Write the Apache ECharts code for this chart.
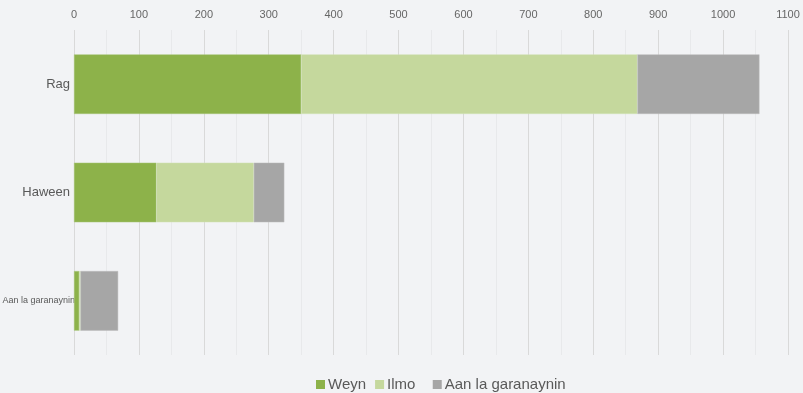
<!DOCTYPE html>
<html>
<head>
<meta charset="utf-8" />
<title>Rag / Haween</title>
<script src="https://cdn.jsdelivr.net/npm/echarts@6/dist/echarts.min.js"></script>
<style>
  html, body { margin: 0; padding: 0; background: #f2f3f5; }
</style>
</head>
<body>
<div id="main" style="width: 803px;height:393px;"></div>
<script type="text/javascript">
var categories = ['Rag', 'Haween', 'Aan la garanaynin'];
var weyn = [350, 127, 8];
var ilmo = [518, 150, 2];
var aan = [188, 47, 58];
var xTicks = { min: 0, max: 1100, interval: 100 };

var myChart = echarts.init(document.getElementById('main'));

// the long category is drawn small, like in the original
var yData = categories.map(function (c) {
  if (c.length > 10) {
    return { value: c, textStyle: { fontSize: 9, padding: [0, -5, 0, 0] } };
  }
  return c;
});

var option = {
  backgroundColor: '#f2f3f5',
  color: ['#8db24a', '#c5d89d', '#a6a6a6'],
  textStyle: { fontFamily: 'Arial, Liberation Sans, sans-serif' },
  grid: { left: 74, right: 15, top: 30, bottom: 38, containLabel: false, outerBoundsMode: 'none' },
  legend: {
    top: 372,
    left: 311,
    itemWidth: 9,
    itemHeight: 9,
    itemGap: 9,
    icon: 'rect',
    itemStyle: { borderWidth: 0 },
    textStyle: { fontSize: 15, color: '#595959', padding: [0, 0, 0, -2] },
    // the original has a wider gap after Ilmo
    formatter: function (name) { return name === 'Ilmo' ? name + '  ' : name; },
    data: ['Weyn', 'Ilmo', 'Aan la garanaynin']
  },
  xAxis: {
    type: 'value',
    position: 'top',
    min: xTicks.min,
    max: xTicks.max,
    interval: xTicks.interval,
    axisLine: { show: false },
    axisTick: { show: false },
    axisLabel: { color: '#666', fontSize: 11, margin: 10, formatter: function (v) { return String(v); } },
    splitLine: { lineStyle: { color: '#d9d9d9' } },
    minorTick: { show: false, splitNumber: 2 },
    minorSplitLine: { show: true, lineStyle: { color: '#e8e9eb' } }
  },
  yAxis: {
    type: 'category',
    inverse: true,
    data: yData,
    axisLine: { show: false },
    axisTick: { show: false },
    axisLabel: { color: '#595959', fontSize: 13, margin: 4 }
  },
  series: [
    { name: 'Weyn', type: 'bar', stack: 'all', barWidth: '55%', data: weyn,
      itemStyle: { borderColor: '#a9c67a', borderWidth: 0.5 } },
    { name: 'Ilmo', type: 'bar', stack: 'all', data: ilmo,
      itemStyle: { borderColor: '#d3e2b6', borderWidth: 0.5 } },
    { name: 'Aan la garanaynin', type: 'bar', stack: 'all', data: aan,
      itemStyle: { borderColor: '#bcbcbc', borderWidth: 0.5 } }
  ]
};
myChart.setOption(option);
</script>
</body>
</html>
